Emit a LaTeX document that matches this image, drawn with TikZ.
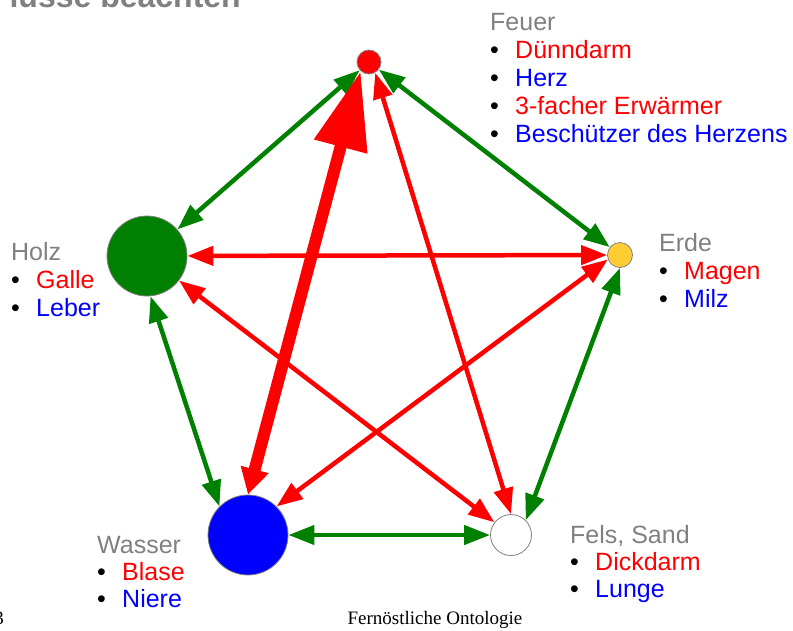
\documentclass[tikz,border=0pt]{standalone}
\usepackage{fontspec}
\setmainfont{Liberation Sans}
\newfontfamily\seriffam{Liberation Serif}
\usetikzlibrary{arrows.meta}
\definecolor{tgray}{HTML}{808080}
\definecolor{tgreen}{HTML}{008000}
\definecolor{tred}{HTML}{FF0000}
\definecolor{tblue}{HTML}{0000FF}
\definecolor{tgold}{HTML}{FFCC33}
\newcommand\grp[2]{\begin{tabular}[t]{@{}p{25pt}@{}l@{}}\multicolumn{2}{@{}l@{}}{\color{tgray}#1}\\#2\end{tabular}}
\newcommand\itr[1]{\textbullet&\color{tred}#1}
\newcommand\itb[1]{\textbullet&\color{tblue}#1}
\begin{document}
\begin{tikzpicture}[x=1pt,y=-1pt,
  elem/.style={circle, draw=tgray, line width=0.8pt, inner sep=0pt},
  garrow/.style={draw=tgreen, line width=4.5pt, {Triangle[length=26pt,width=19pt]}-{Triangle[length=26pt,width=19pt]}},
  rarrow/.style={draw=tred, line width=4.5pt, {Triangle[length=26pt,width=19pt]}-{Triangle[length=26pt,width=19pt]}},
  bigarrow/.style={draw=tred, line width=12pt, {Triangle[length=26pt,width=27pt]}-{Triangle[length=78pt,width=52pt]}},
  lab/.style={anchor=base west, inner sep=0pt, font=\fontsize{25}{28}\selectfont},
  labb/.style={anchor=base west, inner sep=0pt, font=\fontsize{25}{27}\selectfont},
]
\useasboundingbox (0,0) rectangle (793,630);
% title (cut off)
\node[font=\bfseries\fontsize{32}{32}\selectfont, text=tgray, anchor=base east, inner sep=0pt] (ttl) at (241,7) {lüsse beachten};
% elements
\node[elem, fill=tred, minimum size=24pt] (feuer) at (369,62) {};
\node[elem, fill=tgreen, minimum size=80pt] (holz) at (147,256) {};
\node[elem, fill=tgold, minimum size=25pt] (erde) at (620,255) {};
\node[elem, fill=tblue, minimum size=80pt] (wasser) at (248,535) {};
\node[elem, fill=white, minimum size=41pt] (fels) at (511,535) {};
% green cycle
\draw[garrow] (holz) -- (feuer);
\draw[garrow] (feuer) -- (erde);
\draw[garrow] (erde.-90) -- (fels.45);
\draw[garrow] (wasser) -- (fels);
\draw[garrow] (holz.-85) -- (wasser.135);
% red star
\draw[rarrow] (holz) -- (erde);
\draw[rarrow] (wasser.45) -- (erde.200);
\draw[rarrow] (holz) -- (fels);
\draw[rarrow] (feuer.-60) -- (fels.90);
\draw[bigarrow] (wasser.90) -- (feuer.228);
% labels
\node[lab] (lfeuer) at (490,30) {\grp{Feuer}{\itr{Dünndarm}\\\itb{Herz}\\\itr{3-facher Erwärmer}\\\itb{Beschützer des Herzens}}};
\node[lab] (lholz) at (11,260) {\grp{Holz}{\itr{Galle}\\\itb{Leber}}};
\node[lab] (lerde) at (659,251) {\grp{Erde}{\itr{Magen}\\\itb{Milz}}};
\node[labb] (lwasser) at (97,553) {\grp{Wasser}{\itr{Blase}\\\itb{Niere}}};
\node[labb] (lfels) at (570,543) {\grp{Fels, Sand}{\itr{Dickdarm}\\\itb{Lunge}}};
% footer
\node[font=\seriffam\fontsize{19}{19}\selectfont, anchor=base, inner sep=0pt] (foot) at (435,624) {Fernöstliche Ontologie};
\node[font=\seriffam\fontsize{19}{19}\selectfont, anchor=base east, inner sep=0pt] (pnum) at (4,624) {3};
\end{tikzpicture}
\end{document}
